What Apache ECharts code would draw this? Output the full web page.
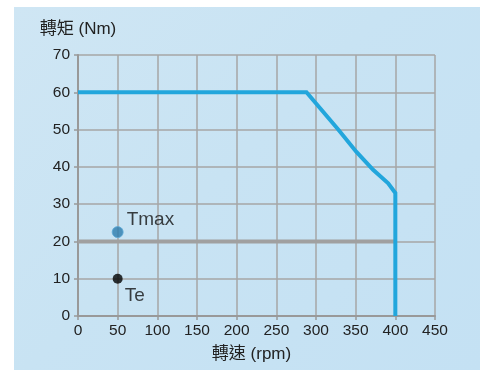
<!DOCTYPE html>
<html><head><meta charset="utf-8">
<script src="https://cdn.jsdelivr.net/npm/echarts@6/dist/echarts.min.js"></script>
<style>
html,body{margin:0;padding:0;background:#fff;}
#bg{position:absolute;left:14px;top:7px;width:466px;height:363px;background:linear-gradient(135deg,#cfe6f4 0%,#c8e3f3 45%,#c4e1f3 100%);}
#c{position:absolute;left:0;top:0;width:480px;height:370px;}
</style></head>
<body>
<div id="bg"></div>
<div id="c"></div>
<script>
const xTicks = [0,50,100,150,200,250,300,350,400,450];
const yTicks = [0,10,20,30,40,50,60,70];
const curveSpeed = [0,288,328,351,372,391,400,400];
const curveTorque = [60,60,50,44,39.2,35.6,33,0];
const ratedSpeed = [0,400];
const ratedTorque = [20,20];
const tmaxPoint = [50,22.5];
const tePoint = [50,10];
const xName = '轉速 (rpm)';
const yName = '轉矩 (Nm)';

const font = '"Liberation Sans","Noto Sans CJK TC",Arial,sans-serif';
const chart = echarts.init(document.getElementById('c'), null, {renderer:'canvas'});
chart.setOption({
  backgroundColor: 'transparent',
  animation: false,
  textStyle: {fontFamily: font},
  grid: {left:78, right:45, top:55, bottom:54},
  xAxis: {
    type:'value', min:0, max:450, interval:50,
    name: xName, nameLocation:'middle', nameGap:30,
    nameTextStyle:{fontSize:17, color:'#222', fontFamily:font, padding:[0,10,0,0]},
    axisLine:{show:true, lineStyle:{color:'#999', width:2}},
    axisTick:{show:true, length:4, lineStyle:{color:'#999', width:1.5}},
    axisLabel:{fontSize:15.5, color:'#222', margin:7, fontFamily:font,
      formatter:v=>String(xTicks[Math.round(v/50)])},
    splitLine:{show:true, lineStyle:{color:'#a6a6a6', width:1.5}}
  },
  yAxis: {
    type:'value', min:0, max:70, interval:10,
    name: yName, nameLocation:'end', nameGap:17,
    nameTextStyle:{fontSize:17, color:'#222', fontFamily:font, align:'center'},
    axisLine:{show:true, lineStyle:{color:'#999', width:2}},
    axisTick:{show:true, length:4, lineStyle:{color:'#999', width:1.5}},
    axisLabel:{fontSize:15.5, color:'#222', margin:8, fontFamily:font,
      formatter:v=>String(yTicks[Math.round(v/10)])},
    splitLine:{show:true, lineStyle:{color:'#a6a6a6', width:1.5}}
  },
  series: [
    {
      type:'line', symbol:'none', z:3,
      data: ratedSpeed.map((x,i)=>[x, ratedTorque[i]]),
      lineStyle:{color:'#a0a0a0', width:4}
    },
    {
      type:'line', symbol:'none', z:4,
      data: curveSpeed.map((x,i)=>[x, curveTorque[i]]),
      lineStyle:{color:'#22a6dc', width:4, join:'miter'}
    },
    {
      type:'scatter', symbolSize:11, z:5,
      data:[tmaxPoint],
      itemStyle:{color:'#2d7cad', borderColor:'#5aa7d4', borderWidth:1},
      label:{show:true, position:'right', distance:3, offset:[0,-12],
        formatter:'Tmax', fontSize:19, color:'#111', fontFamily:font}
    },
    {
      type:'scatter', symbolSize:10, z:5,
      data:[tePoint],
      itemStyle:{color:'#000'},
      label:{show:true, position:'right', distance:2, offset:[0,17],
        formatter:'Te', fontSize:19, color:'#111', fontFamily:font}
    }
  ]
});
</script>
</body></html>
